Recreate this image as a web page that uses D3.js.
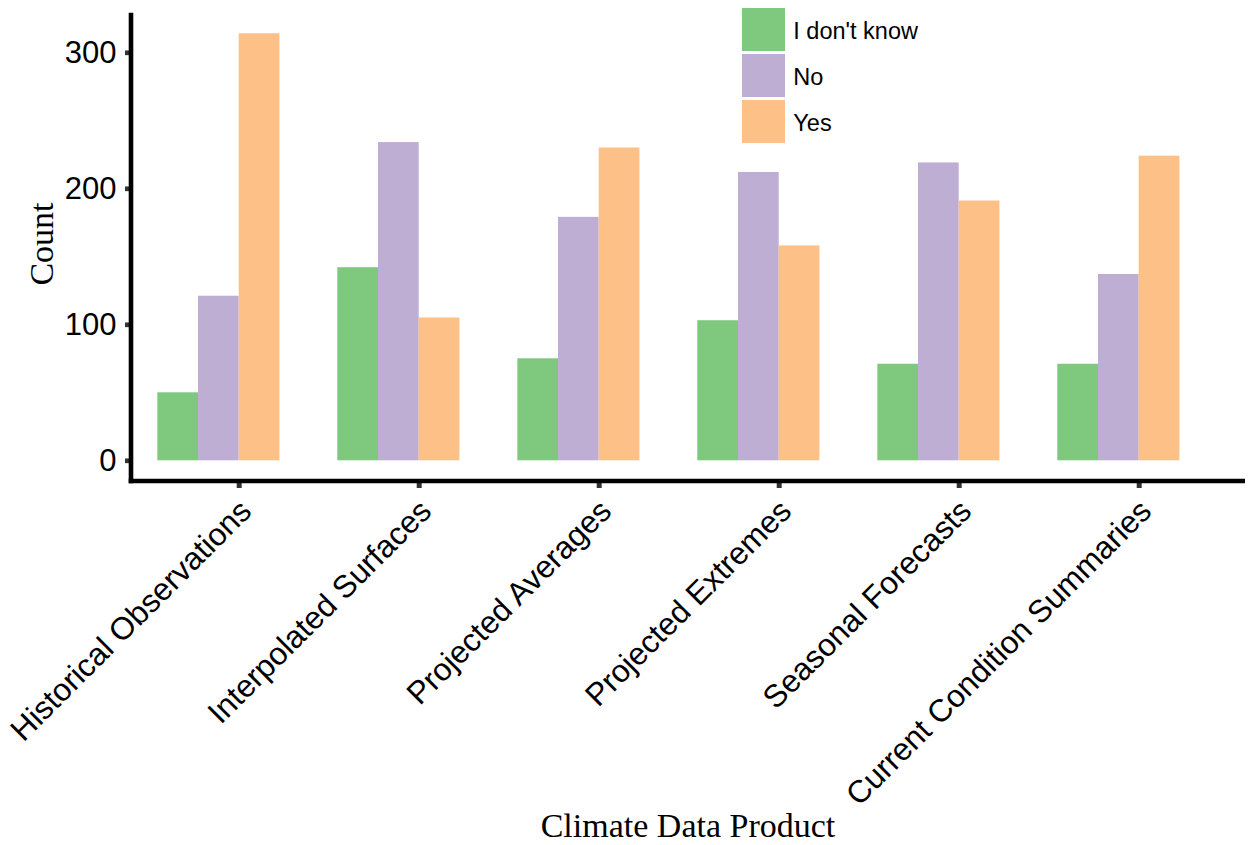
<!DOCTYPE html>
<html>
<head>
<meta charset="utf-8">
<script src="https://cdn.jsdelivr.net/npm/d3@7"></script>
<style>
  html, body { margin: 0; padding: 0; background: #fff; }
  svg { display: block; }
</style>
</head>
<body>
<svg id="chart" width="1249" height="845"></svg>
<script>
// ---- data ----
const categories = ["Historical Observations", "Interpolated Surfaces", "Projected Averages",
                    "Projected Extremes", "Seasonal Forecasts", "Current Condition Summaries"];
const series = ["I don't know", "No", "Yes"];
const dontKnow = [50, 142, 75, 103, 71, 71];
const no       = [121, 234, 179, 212, 219, 137];
const yes      = [314, 105, 230, 158, 191, 224];
const yTicks   = [0, 100, 200, 300];
const colors   = ["#7fc97f", "#beaed4", "#fdc086"];
const xTitle = "Climate Data Product";
const yTitle = "Count";

const valuesBySeries = [dontKnow, no, yes];

const svg = d3.select("#chart");

// scales
const y = d3.scaleLinear().domain([0, 300]).range([460.3, 52.3]);
const x = d3.scalePoint().domain(categories).range([238.7, 1138.7]).padding(0);
const xSub = d3.scaleBand().domain(series).range([-81.4, 40.7]);
const color = d3.scaleOrdinal().domain(series).range(colors);

// bars
const rows = [];
categories.forEach((c, i) => {
  series.forEach((s, j) => rows.push({ cat: c, ser: s, val: valuesBySeries[j][i] }));
});
svg.append("g").selectAll("rect").data(rows).join("rect")
  .attr("x", d => x(d.cat) + xSub(d.ser))
  .attr("width", xSub.bandwidth())
  .attr("y", d => y(d.val))
  .attr("height", d => y(0) - y(d.val))
  .attr("fill", d => color(d.ser));

// y axis
const yAxisG = svg.append("g").attr("transform", "translate(131,0)")
  .call(d3.axisLeft(y).tickValues(yTicks).tickSize(6).tickPadding(8).tickFormat(d3.format("d")));
yAxisG.select(".domain").remove();
yAxisG.selectAll(".tick line").attr("stroke", "#333").attr("stroke-width", 4.7);
yAxisG.selectAll(".tick text")
  .attr("font-family", "'Liberation Sans', Arial, sans-serif")
  .attr("font-size", 31).attr("fill", "#000").attr("x", -14.5);

// x axis
const xAxisG = svg.append("g").attr("transform", "translate(0,481)")
  .call(d3.axisBottom(x).tickSize(7).tickPadding(0));
xAxisG.select(".domain").remove();
xAxisG.selectAll(".tick line").attr("stroke", "#333").attr("stroke-width", 5);
xAxisG.selectAll(".tick text")
  .attr("font-family", "'Liberation Sans', Arial, sans-serif")
  .attr("font-size", 31.6).attr("fill", "#000")
  .attr("text-anchor", "end")
  .attr("y", 0).attr("dy", 0)
  .attr("transform", "translate(14,32) rotate(-45)");

// axis lines
svg.append("line").attr("x1", 131).attr("x2", 131).attr("y1", 12.7).attr("y2", 483.3)
  .attr("stroke", "#000").attr("stroke-width", 4.6);
svg.append("line").attr("x1", 128.7).attr("x2", 1245).attr("y1", 481).attr("y2", 481)
  .attr("stroke", "#000").attr("stroke-width", 4.6);

// axis titles
svg.append("text").attr("x", 688).attr("y", 837)
  .attr("text-anchor", "middle")
  .attr("font-family", "'Liberation Serif', 'Times New Roman', serif")
  .attr("font-size", 34).attr("fill", "#000").text(xTitle);
svg.append("text")
  .attr("transform", "translate(53,244) rotate(-90)")
  .attr("text-anchor", "middle")
  .attr("font-family", "'Liberation Serif', 'Times New Roman', serif")
  .attr("font-size", 34).attr("fill", "#000").text(yTitle);

// legend
const legend = svg.append("g").attr("transform", "translate(742,8)");
series.forEach((s, j) => {
  const g = legend.append("g").attr("transform", `translate(0,${j * 46})`);
  g.append("rect").attr("width", 43).attr("height", 43).attr("fill", color(s));
  g.append("text").attr("x", 51.3).attr("y", 31)
    .attr("font-family", "'Liberation Sans', Arial, sans-serif")
    .attr("font-size", 23.5).attr("fill", "#000").text(s);
});
</script>
</body>
</html>
